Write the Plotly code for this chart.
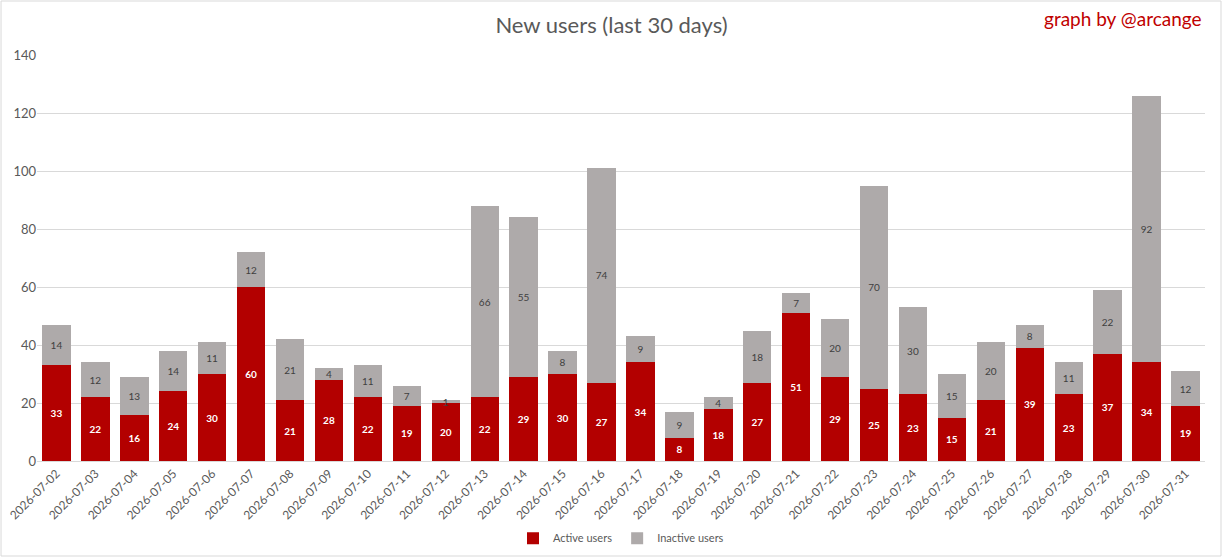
import plotly.graph_objects as go

dates = [f"2026-07-{d:02d}" for d in range(2, 32)]
active = [33, 22, 16, 24, 30, 60, 21, 28, 22, 19, 20, 22, 29, 30, 27,
          34, 8, 18, 27, 51, 29, 25, 23, 15, 21, 39, 23, 37, 34, 19]
inactive = [14, 12, 13, 14, 11, 12, 21, 4, 11, 7, 1, 66, 55, 8, 74,
            9, 9, 4, 18, 7, 20, 70, 30, 15, 20, 8, 11, 22, 92, 12]
y_ticks = [0, 20, 40, 60, 80, 100, 120, 140]

FONT = "Lato"
GREY_TXT = "#595959"

fig = go.Figure()
fig.add_trace(go.Bar(
    x=dates, y=active, name="Active users",
    marker=dict(color="#b30000", line=dict(width=0)),
    text=active, textposition="inside", insidetextanchor="middle", textangle=0,
    textfont=dict(color="white", size=10, family=FONT, weight="bold"),
))
fig.add_trace(go.Bar(
    x=dates, y=inactive, name="Inactive users",
    marker=dict(color="#aeaaaa", line=dict(width=0)),
    text=inactive, textposition="inside", insidetextanchor="middle", textangle=0,
    textfont=dict(color="#404040", size=10, family=FONT),
))

# border around the whole chart
fig.add_shape(type="rect", xref="paper", yref="paper",
              x0=-0.0308, x1=1.0137, y0=-0.234, y1=1.133,
              line=dict(color="#d9d9d9", width=1), layer="below")

fig.add_annotation(text="graph by @arcange", xref="paper", yref="paper",
                   x=0.9995, y=1.09, xanchor="right", yanchor="middle",
                   showarrow=False, font=dict(color="#c00000", size=19, family=FONT))

fig.update_layout(
    barmode="stack", bargap=0.27,
    width=1223, height=557,
    margin=dict(l=37, r=18, t=55, b=96, autoexpand=False),
    paper_bgcolor="white", plot_bgcolor="white",
    font=dict(family=FONT, color=GREY_TXT),
    title=dict(text="New users (last 30 days)", x=0.5, xanchor="center",
               y=0.955, yanchor="middle",
               font=dict(size=22, color=GREY_TXT, family=FONT)),
    uniformtext=dict(minsize=10, mode="show"),
    legend=dict(orientation="h", x=0.5, xanchor="center", y=-0.19, yanchor="middle",
                font=dict(size=11, color=GREY_TXT), traceorder="normal"),
    xaxis=dict(type="category", tickangle=-45, tickfont=dict(size=12, color=GREY_TXT),
               showline=True, linecolor="#d9d9d9", ticks="", automargin=False),
    yaxis=dict(range=[0, 140], tickvals=y_ticks, gridcolor="#d9d9d9",
               tickfont=dict(size=13, color=GREY_TXT), zeroline=False,
               ticks="", ticklen=0, automargin=False),
)

# drop the default body margin so the figure sits at the window's corner
fig.write_html("out.html", config={"displayModeBar": False},
               post_script="document.body.style.margin='0';")
